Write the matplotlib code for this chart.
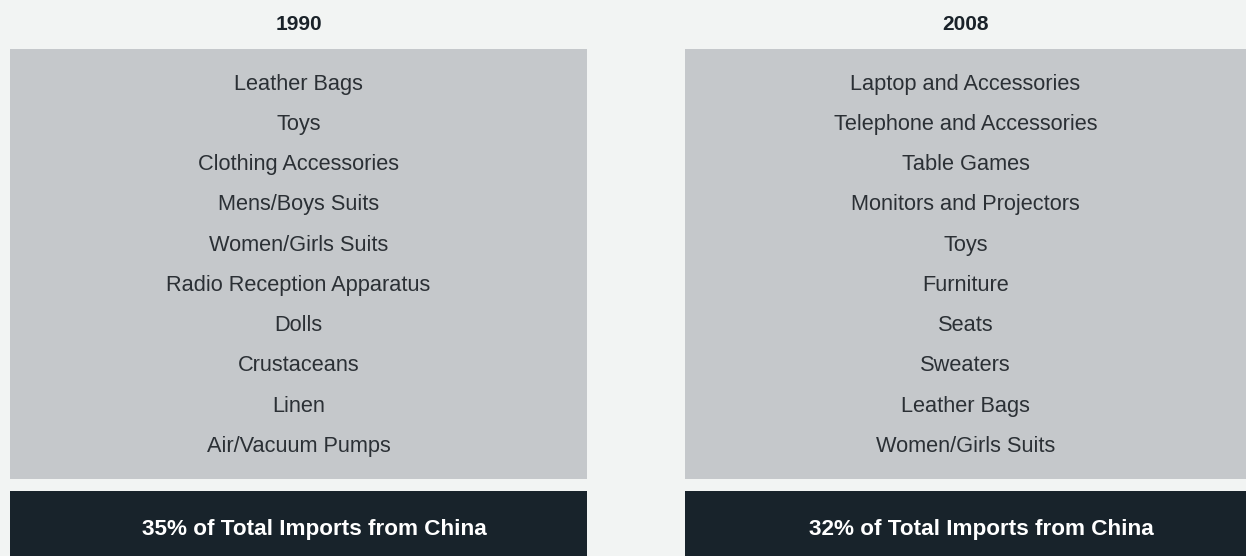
import matplotlib
matplotlib.use("Agg")
import matplotlib.pyplot as plt
from matplotlib.patches import Rectangle

# ---- data ----
years = ["1990", "2008"]
items_1990 = ["Leather Bags", "Toys", "Clothing Accessories", "Mens/Boys Suits",
              "Women/Girls Suits", "Radio Reception Apparatus", "Dolls",
              "Crustaceans", "Linen", "Air/Vacuum Pumps"]
items_2008 = ["Laptop and Accessories", "Telephone and Accessories", "Table Games",
              "Monitors and Projectors", "Toys", "Furniture", "Seats", "Sweaters",
              "Leather Bags", "Women/Girls Suits"]
share_pct = [35, 32]

# ---- style ----
W, H = 1246, 556
BG = "#f2f4f3"
BOX = "#c5c8cb"
DARK = "#18232b"
TXT = "#2b3035"
HEAD = "#1a2229"

plt.rcParams['font.family'] = ['Liberation Sans', 'DejaVu Sans']

fig = plt.figure(figsize=(W / 100, H / 100), dpi=100, facecolor=BG)
ax = fig.add_axes([0, 0, 1, 1])
ax.set_xlim(0, W)
ax.set_ylim(H, 0)
ax.axis("off")
ax.set_facecolor(BG)

panels = [(10, 587), (685, 1246)]
box_top, box_bot = 49, 479
dark_top, dark_bot = 491, 570
first_y, step = 81.7, 40.25

for (x0, x1), year, items, pct in zip(panels, years, [items_1990, items_2008], share_pct):
    cx = (x0 + x1) / 2
    ax.add_patch(Rectangle((x0, box_top), x1 - x0, box_bot - box_top,
                           facecolor=BOX, edgecolor="none"))
    ax.add_patch(Rectangle((x0, dark_top), x1 - x0, dark_bot - dark_top,
                           facecolor=DARK, edgecolor="none", clip_on=False))
    ax.text(cx, 22, year, ha="center", va="center_baseline", fontsize=15,
            fontweight="bold", color=HEAD)
    for i, name in enumerate(items):
        ax.text(cx, first_y + i * step, name, ha="center", va="center_baseline",
                fontsize=15.7, color=TXT)
    ax.text(cx + 15.5, 526.5, f"{pct}% of Total Imports from China", ha="center",
            va="center_baseline", fontsize=16.2, fontweight="bold", color="white")

fig.savefig("out.png", dpi=100, facecolor=BG)
